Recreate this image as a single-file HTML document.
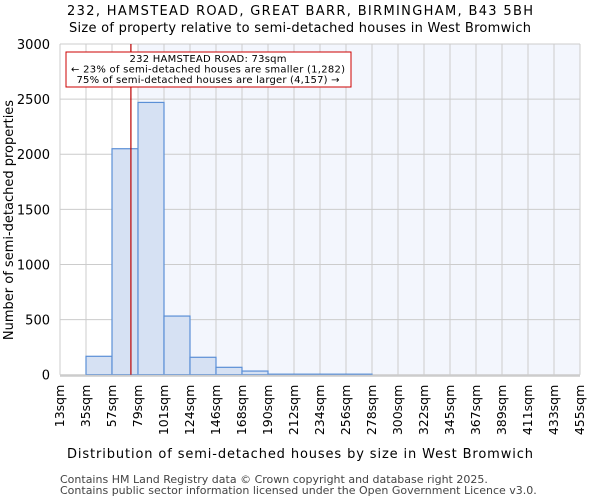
<!DOCTYPE html>
<html><head><meta charset="utf-8"><style>
body{margin:0;background:#fff;font-family:"DejaVu Sans","Liberation Sans",sans-serif;}
svg text{font-family:"DejaVu Sans","Liberation Sans",sans-serif;}
</style></head><body>
<svg width="600" height="500" id="c">
<text x="300" y="15" text-anchor="middle" font-size="13" textLength="466">232, HAMSTEAD ROAD, GREAT BARR, BIRMINGHAM, B43 5BH</text>
<text x="300" y="32" text-anchor="middle" font-size="13" textLength="462">Size of property relative to semi-detached houses in West Bromwich</text>
<g id="plot"></g>
<text x="300" y="458" text-anchor="middle" font-size="13" textLength="466">Distribution of semi-detached houses by size in West Bromwich</text>
<text transform="translate(13,220) rotate(-90)" text-anchor="middle" font-size="13">Number of semi-detached properties</text>
<text x="60" y="483" font-size="11" fill="#444">Contains HM Land Registry data © Crown copyright and database right 2025.</text>
<text x="60" y="494" font-size="11" fill="#444">Contains public sector information licensed under the Open Government Licence v3.0.</text>
</svg>
<script>
const binLabels=["13sqm","35sqm","57sqm","79sqm","101sqm","124sqm","146sqm","168sqm","190sqm","212sqm","234sqm","256sqm","278sqm","300sqm","322sqm","345sqm","367sqm","389sqm","411sqm","433sqm","455sqm"];
const counts=[0,167,2050,2470,532,158,67,33,5,5,5,5,0,0,0,0,0,0,0,0];
const yTicks=[0,500,1000,1500,2000,2500,3000];
const propertySize=73;
const NS="http://www.w3.org/2000/svg";
const g=document.getElementById('plot');
const X0=60,X1=580,Y0=374.7,Y1=44,YMAX=3000;
const nb=counts.length,bw=(X1-X0)/nb;
const xIdx=i=>X0+i*bw;
const y=v=>Y0-(v/YMAX)*(Y0-Y1);
const binStarts=binLabels.map(s=>parseFloat(s));
function xVal(v){for(let i=0;i<nb;i++){if(v<binStarts[i+1]){return xIdx(i)+(v-binStarts[i])/(binStarts[i+1]-binStarts[i])*bw;}}return X1;}
function mk(t,a){const e=document.createElementNS(NS,t);for(const k in a)e.setAttribute(k,a[k]);g.appendChild(e);return e;}
let r=mk('rect',{x:xIdx(3),y:Y1,width:X1-xIdx(3),height:Y0-Y1,fill:'#f3f6fd'});


for(let i=0;i<=nb;i++){let l=mk('line',{x1:xIdx(i),x2:xIdx(i),y1:Y1,y2:Y0,stroke:'#ccc','stroke-width':1});

}
yTicks.forEach(t=>{let l=mk('line',{x1:X0,x2:X1,y1:y(t),y2:y(t),stroke:'#ccc','stroke-width':1});


let tx=mk('text',{x:X0-10,y:y(t)+5,'text-anchor':'end','font-size':13});tx.textContent=t;

});
counts.forEach((c,i)=>{if(c<=0)return;let b=mk('rect',{x:xIdx(i),y:y(c),width:bw,height:Y0-y(c),fill:'#d6e1f3',stroke:'#5b8fd6','stroke-width':1.2});

});
let ax=mk('line',{x1:X0,x2:X1,y1:Y0+1,y2:Y0+1,stroke:'#ccc','stroke-width':2});


binLabels.forEach((s,i)=>{const xx=xIdx(i);let t=mk('text',{transform:`translate(${xx+4},${Y0+10}) rotate(-90)`,'text-anchor':'end','font-size':12.5});t.textContent=s;

});
const px=xVal(propertySize);
let rl=mk('line',{x1:px,x2:px,y1:Y1,y2:Y0,stroke:'#b00','stroke-width':1.2});


let bx=mk('rect',{x:66,y:52,width:285,height:35,fill:'#fff',stroke:'#c00','stroke-width':1});


const annLens=[157,274,263];
["232 HAMSTEAD ROAD: 73sqm","← 23% of semi-detached houses are smaller (1,282)","75% of semi-detached houses are larger (4,157) →"].forEach((s,i)=>{let t=mk('text',{x:208,y:62+i*10.5,'text-anchor':'middle','font-size':10,textLength:annLens[i]});t.textContent=s;

});
</script>
</body></html>
